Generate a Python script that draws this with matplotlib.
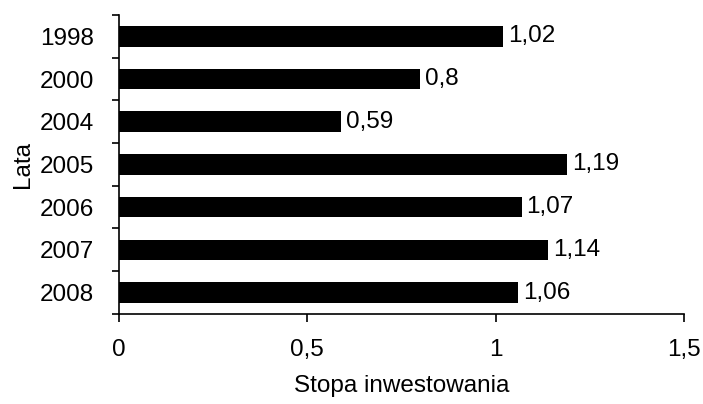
import numpy as np
import matplotlib
matplotlib.use('Agg')
import matplotlib.pyplot as plt
from matplotlib.ticker import FixedLocator

years = ['1998', '2000', '2004', '2005', '2006', '2007', '2008']
values = [1.02, 0.8, 0.59, 1.19, 1.07, 1.14, 1.06]
value_labels = ['1,02', '0,8', '0,59', '1,19', '1,07', '1,14', '1,06']
x_ticks = [0, 0.5, 1, 1.5]
x_tick_labels = ['0', '0,5', '1', '1,5']

plt.rcParams['font.family'] = ['Liberation Sans', 'DejaVu Sans']
fs = 17.5

fig = plt.figure(figsize=(7.03, 4.04), dpi=100)
ax = fig.add_axes([0.169, 0.223, 0.804, 0.740])

pos = np.arange(len(years))
ax.barh(pos, values, height=0.48, color='black')
for p, v, lab in zip(pos, values, value_labels):
    ax.text(v + 0.012, p, lab, va='center', ha='left', fontsize=fs)

ax.set_ylim(len(years) - 0.5, -0.5)
ax.set_xlim(0, 1.5)
ax.set_yticks(pos)
ax.set_yticklabels(years, fontsize=fs)
ax.yaxis.set_minor_locator(FixedLocator(np.arange(-0.5, len(years), 1)))
ax.tick_params(axis='y', which='major', length=0, pad=18)
ax.tick_params(axis='y', which='minor', length=5, width=1.2, direction='out')
ax.set_xticks(x_ticks)
ax.set_xticklabels(x_tick_labels, fontsize=fs)
ax.tick_params(axis='x', length=6, width=1.2, direction='out', pad=12)

for s in ['top', 'right']:
    ax.spines[s].set_visible(False)
for s in ['left', 'bottom']:
    ax.spines[s].set_linewidth(1.2)

ax.set_xlabel('Stopa inwestowania', fontsize=fs, labelpad=10)
ax.set_ylabel('Lata', fontsize=fs, labelpad=4)

fig.savefig('out.png', dpi=100)
